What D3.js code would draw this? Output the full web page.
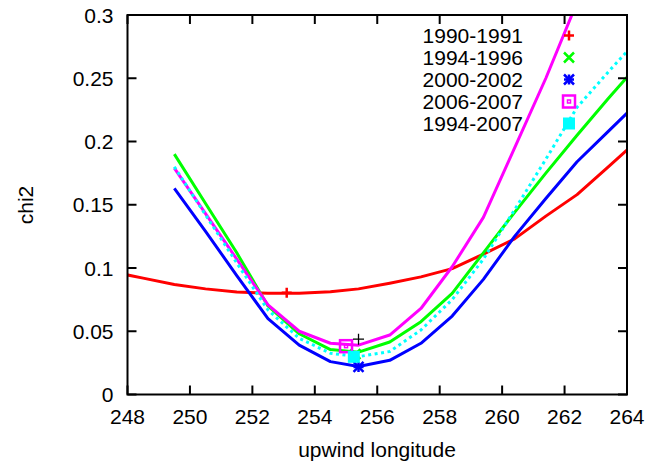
<!DOCTYPE html>
<html><head><meta charset="utf-8">
<script src="https://cdn.jsdelivr.net/npm/d3@7"></script>
<style>body{margin:0;background:#fff}svg{display:block;font-family:"Liberation Sans",Arial,sans-serif}</style>
</head><body><svg id="c" width="667" height="461"></svg>
<script>
// longitude grid of the curves
const lon = [247.5,248.5,249.5,250.5,251.5,252.5,253.5,254.5,255.4,256.4,257.4,258.4,259.4,260.4,261.4,262.4,263.4,264.4];
const chi1990 = [0.097,0.092,0.087,0.0835,0.081,0.080,0.080,0.0813,0.0835,0.088,0.093,0.0995,0.111,0.123,0.141,0.158,0.180,0.202];
const chi1994 = [null,null,0.190,0.151,0.112,0.070,0.048,0.0355,0.0335,0.0415,0.0576,0.080,0.112,0.144,0.175,0.205,0.234,0.262];
const chi2000 = [null,null,0.163,0.129,0.094,0.060,0.039,0.026,0.0222,0.027,0.0405,0.062,0.091,0.125,0.155,0.184,0.208,0.232];
const chi2006 = [null,null,0.179,0.143,0.107,0.0708,0.050,0.0405,0.039,0.047,0.068,0.101,0.140,0.195,0.250,0.310,0.370,null];
const chiAll  = [null,null,0.180,0.142,0.104,0.0668,0.0444,0.0326,0.0299,0.034,0.051,0.075,0.107,0.146,0.186,0.227,0.255,0.282];

const seriesNames = ["1990-1991","1994-1996","2000-2002","2006-2007","1994-2007"];
const seriesColors = ["#ff0000","#00ff00","#0000ff","#ff00ff","#00ffff"];
const seriesSymbols = ["plus","cross","star","box","fillbox"];
// best-fit (minimum) markers
const minLon = [253.1,255.3,255.4,255.0,255.25];
const minChi = [0.0805,0.032,0.0218,0.0382,0.0298];
const extraLon = [255.4], extraChi = [0.0437];

const xTicks = [248,250,252,254,256,258,260,262,264];
const yTicks = [0,0.05,0.1,0.15,0.2,0.25,0.3];

const L=127.5,R=627,T=15,B=394.5;
const svg=d3.select("#c");
const x=d3.scaleLinear().domain([248,264]).range([L,R]);
const y=d3.scaleLinear().domain([0,0.3]).range([B,T]);

svg.append("defs").append("clipPath").attr("id","clip").append("rect")
  .attr("x",L).attr("y",T).attr("width",R-L).attr("height",B-T);

const curves=[chi1990,chi1994,chi2000,chi2006,chiAll];
const line=d3.line().defined(d=>d[1]!=null).x(d=>x(d[0])).y(d=>y(d[1]));
const g=svg.append("g").attr("clip-path","url(#clip)");
curves.forEach((c,i)=>{
  g.append("path").datum(lon.map((l,j)=>[l,c[j]]))
   .attr("d",line).attr("fill","none").attr("stroke",seriesColors[i])
   .attr("stroke-width",3).attr("stroke-linejoin","round")
   .attr("stroke-dasharray",i==4?"3,3.5":null);
});

function sym(sel,type,cx,cy,color,s,w){
  const gg=sel.append("g").attr("transform",`translate(${cx},${cy})`)
    .attr("stroke",color).attr("stroke-width",w).attr("fill","none");
  if(type=="plus"||type=="star"){
    gg.append("path").attr("d",`M${-s},0H${s}M0,${-s}V${s}`);
  }
  if(type=="cross"||type=="star"){
    gg.append("path").attr("d",`M${-s},${-s}L${s},${s}M${-s},${s}L${s},${-s}`);
  }
  if(type=="box"){
    gg.append("rect").attr("x",-s).attr("y",-s).attr("width",2*s).attr("height",2*s);
    gg.append("rect").attr("x",-1.5).attr("y",-1.5).attr("width",3).attr("height",3).attr("stroke-width",1.5);
  }
  if(type=="fillbox"){
    gg.append("rect").attr("x",-s).attr("y",-s).attr("width",2*s).attr("height",2*s).attr("fill",color).attr("stroke","none");
  }
}
const sizes=[5,5,5,6,6];
minLon.forEach((l,i)=>sym(svg,seriesSymbols[i],x(l),y(minChi[i]),seriesColors[i],sizes[i],2.5));
extraLon.forEach((l,i)=>sym(svg,"plus",x(l),y(extraChi[i]),"#000",5.5,1.3));

// legend
const lg=svg.append("g");
seriesNames.forEach((n,i)=>{
  const yy=35.5+i*22;
  lg.append("text").attr("x",523).attr("y",yy).attr("dy","0.36em").attr("text-anchor","end")
    .attr("font-size",21).attr("fill","#000").text(n);
  sym(lg,seriesSymbols[i],569,yy,seriesColors[i],sizes[i],2.5);
});

// axes frame and ticks
const ax=svg.append("g").attr("stroke","#000").attr("stroke-width",2);
ax.append("rect").attr("x",L).attr("y",T).attr("width",R-L).attr("height",B-T).attr("fill","none");
xTicks.forEach(t=>{
  ax.append("line").attr("x1",x(t)).attr("x2",x(t)).attr("y1",B).attr("y2",B-9);
  ax.append("line").attr("x1",x(t)).attr("x2",x(t)).attr("y1",T).attr("y2",T+9);
});
yTicks.forEach(t=>{
  ax.append("line").attr("x1",L).attr("x2",L+9).attr("y1",y(t)).attr("y2",y(t));
  ax.append("line").attr("x1",R).attr("x2",R-9).attr("y1",y(t)).attr("y2",y(t));
});
xTicks.forEach(t=>{
  svg.append("text").attr("x",x(t)).attr("y",424).attr("text-anchor","middle")
    .attr("font-size",21).text(t);
});
yTicks.forEach(t=>{
  svg.append("text").attr("x",113.5).attr("y",y(t)).attr("dy","0.36em").attr("text-anchor","end")
    .attr("font-size",21).text(t);
});
svg.append("text").attr("x",377).attr("y",457).attr("text-anchor","middle").attr("font-size",21).text("upwind longitude");
svg.append("text").attr("transform","translate(33,205) rotate(-90)").attr("text-anchor","middle").attr("font-size",21).text("chi2");
</script></body></html>
